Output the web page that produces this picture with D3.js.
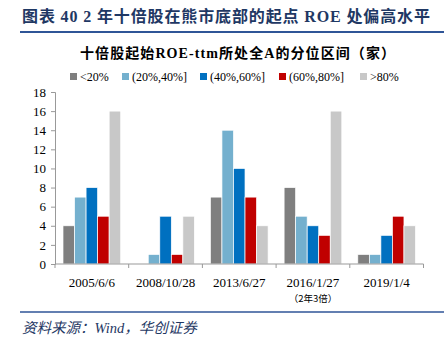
<!DOCTYPE html>
<html><head><meta charset="utf-8">
<script src="https://cdn.jsdelivr.net/npm/d3@7"></script>
<style>body{margin:0;background:#fff}svg{display:block}</style>
</head><body>
<svg id="c" width="447" height="341"></svg>
<script>
const categories = ["2005/6/6","2008/10/28","2013/6/27","2016/1/27","2019/1/4"];
const subLabels = ["","","","（2年3倍）",""];
const seriesNames = ["<20%","(20%,40%]","(40%,60%]","(60%,80%]",">80%"];
const s1 = [4,0,7,8,1];
const s2 = [7,1,14,5,1];
const s3 = [8,5,10,4,3];
const s4 = [5,1,7,3,5];
const s5 = [16,5,4,16,4];
const seriesValues = [s1,s2,s3,s4,s5];
const colors = ["#7F7F7F","#74B0CE","#0070C0","#C00000","#C8C8C8"];
const yTicks = [0,2,4,6,8,10,12,14,16,18];

const svg = d3.select("#c");
const serif = "'Liberation Serif','Times New Roman','Noto Sans CJK SC',serif";
const titleColor = "#1F3864";

svg.append("text").attr("x",22).attr("y",22).attr("font-family",serif).attr("font-weight","bold")
  .attr("font-size",16).attr("fill",titleColor).attr("textLength",408).attr("lengthAdjust","spacing")
  .text("图表 40 2 年十倍股在熊市底部的起点 ROE 处偏高水平");
svg.append("line").attr("x1",20).attr("x2",444).attr("y1",32).attr("y2",32).attr("stroke","#2F5597").attr("stroke-width",2);
svg.append("text").attr("x",80).attr("y",58).attr("font-family",serif).attr("font-weight","bold")
  .attr("font-size",14).attr("fill","#000").attr("textLength",315).attr("lengthAdjust","spacing")
  .text("十倍股起始ROE-ttm所处全A的分位区间（家）");

// legend
const legX = [70,122,200,279,360];
seriesNames.forEach((n,i)=>{
  const g = svg.append("g").attr("transform",`translate(${legX[i]},77)`);
  g.append("rect").attr("x",0).attr("y",-4).attr("width",7).attr("height",7).attr("fill",colors[i]);
  g.append("text").attr("x",10).attr("y",4).attr("font-family",serif).attr("font-size",12).attr("fill","#000").text(n);
});

const x0 = d3.scaleBand().domain(categories).range([55,423.5]).paddingInner(0).paddingOuter(0);
const x1 = d3.scaleBand().domain(seriesNames).range([8, x0.bandwidth()-8]).padding(0);
const y = d3.scaleLinear().domain([0,18]).range([264,92]);

// y axis
const yAx = svg.append("g").attr("transform","translate(55,0)").call(d3.axisLeft(y).tickValues(yTicks).tickSize(4).tickPadding(5));
yAx.select(".domain").attr("stroke","#999");
yAx.selectAll(".tick line").attr("stroke","#999");
yAx.selectAll("text").attr("font-family",serif).attr("font-size",13).attr("fill","#000");

// bars
categories.forEach((c,ci)=>{
  seriesValues.forEach((vals,si)=>{
    const v = vals[ci];
    if (v<=0) return;
    svg.append("rect").attr("x",x0(c)+x1(seriesNames[si])).attr("width",x1.bandwidth())
      .attr("y",y(v)).attr("height",y(0)-y(v)).attr("fill",colors[si])
      .attr("stroke","#fff").attr("stroke-width",0.7);
  });
});

// x axis
const xAx = svg.append("g").attr("transform","translate(0,264)");
xAx.append("line").attr("x1",55).attr("x2",423.5).attr("y1",0).attr("y2",0).attr("stroke","#999");
const bounds = categories.map(c=>x0(c)).concat([x0(categories[categories.length-1])+x0.bandwidth()]);
bounds.forEach(b=>xAx.append("line").attr("x1",b).attr("x2",b).attr("y1",0).attr("y2",4).attr("stroke","#999"));
categories.forEach((c,i)=>{
  xAx.append("text").attr("x",x0(c)+x0.bandwidth()/2).attr("y",23).attr("text-anchor","middle")
    .attr("font-family",serif).attr("font-size",13).attr("fill","#000").text(c);
  if (subLabels[i]) xAx.append("text").attr("x",x0(c)+x0.bandwidth()/2).attr("y",38).attr("text-anchor","middle")
    .attr("font-family","'Noto Sans CJK SC',sans-serif").attr("font-size",9.5).attr("fill","#000")
    .text(subLabels[i]);
});

svg.append("line").attr("x1",20).attr("x2",444).attr("y1",312).attr("y2",312).attr("stroke","#2F5597").attr("stroke-width",1.5);
svg.append("text").attr("x",22).attr("y",333).attr("font-family",serif).attr("font-style","italic")
  .attr("font-size",14.5).attr("fill",titleColor)
  .text("资料来源：Wind，华创证券");
</script>
</body></html>
